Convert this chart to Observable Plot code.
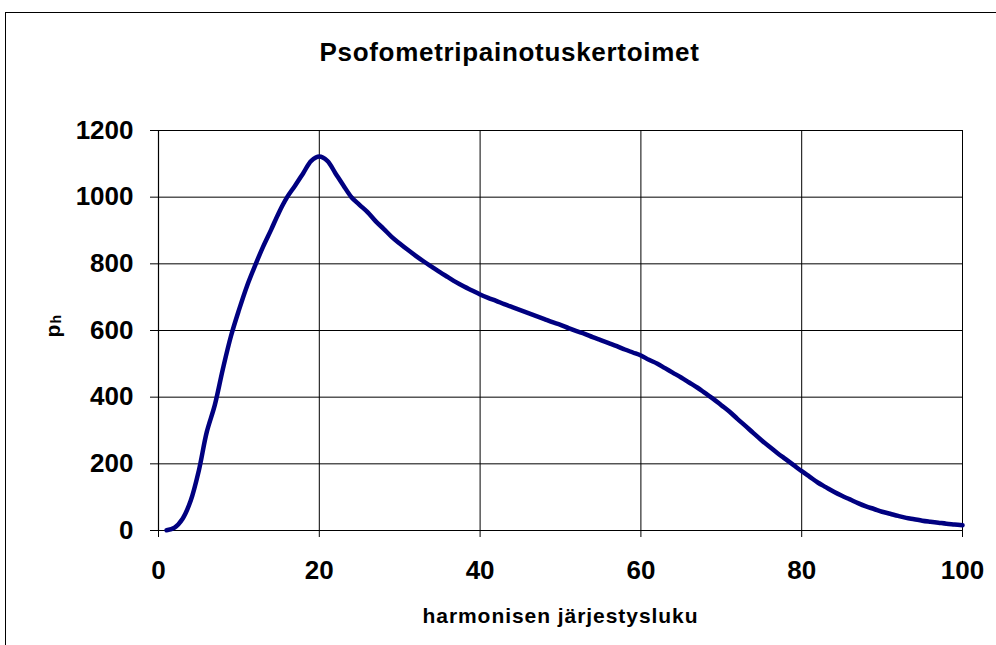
<!DOCTYPE html>
<html><head><meta charset="utf-8">
<script src="https://cdn.jsdelivr.net/npm/d3@7"></script>
<script src="https://cdn.jsdelivr.net/npm/@observablehq/plot@0.6"></script>
<style>
html,body{margin:0;padding:0;background:#fff;}
#chart{position:relative;width:996px;height:645px;overflow:hidden;background:#fff;}
#frame{position:absolute;left:5px;top:12px;width:1200px;height:800px;border:1.5px solid #000;box-sizing:border-box;}
#chart svg{position:absolute;left:0;top:0;}
</style></head><body>
<div id="chart"><div id="frame"></div></div>
<script>
const title = "Psofometripainotuskertoimet";
const xLabel = "harmonisen järjestysluku";
const yLabelMain = "p";
const yLabelSub = "h";
const harmonics = [1,2,3,4,5,6,7,8,9,10,11,12,13,14,15,16,17,18,19,20,
  21,22,23,24,25,26,27,28,29,30,31,32,33,34,35,36,37,38,39,40,
  41,42,43,44,45,46,47,48,49,50,51,52,53,54,55,56,57,58,59,60,
  61,62,63,64,65,66,67,68,69,70,71,72,73,74,75,76,77,78,79,80,
  81,82,83,84,85,86,87,88,89,90,91,92,93,94,95,96,97,98,99,100];
const weights = [0.71,8.91,35.5,89.1,178,295,376,484,582,661,
  733,794,851,902,955,1000,1035,1072,1109,1122,
  1109,1072,1035,1000,977,955,928,905,881,861,
  842,824,807,791,775,760,745,732,720,708,
  698,689,679,670,661,652,643,634,625,617,
  607,598,590,580,571,562,553,543,534,525,
  512,501,487,473,459,444,429,412,395,376,
  357,335,314,292,271,251,232,214,196,178,
  161,144,130,116,104,93.3,82.2,72.4,64.5,56.2,
  50.1,43.7,38.0,33.9,29.5,26.3,23.4,20.4,18.2,15.9];
const xTicks = [0,20,40,60,80,100];
const yTicks = [0,200,400,600,800,1000,1200];

const data = harmonics.map((h, i) => ({h, p: weights[i]}));
const font = "'Liberation Sans', Arial, Helvetica, sans-serif";
const fmt = d => String(d);

const plot = Plot.plot({
  width: 996, height: 645,
  marginLeft: 158, marginRight: 34, marginTop: 130, marginBottom: 115,
  style: {fontFamily: font, background: "transparent", color: "#000", overflow: "visible"},
  x: {domain: [0, 100]},
  y: {domain: [0, 1200]},
  marks: [
    Plot.gridY(yTicks, {stroke: "#000", strokeOpacity: 1, strokeWidth: 1}),
    Plot.gridX(xTicks, {stroke: "#000", strokeOpacity: 1, strokeWidth: 1}),
    Plot.ruleY([0], {stroke: "#000", strokeWidth: 1.2}),
    Plot.ruleX([0], {stroke: "#000", strokeWidth: 1.2}),
    Plot.axisY(yTicks, {tickSize: 8, tickPadding: 17, fontSize: 26, fontWeight: "bold", label: null, stroke: "#000", tickFormat: fmt}),
    Plot.axisX(xTicks, {tickSize: 7, tickPadding: 23, fontSize: 26, fontWeight: "bold", label: null, stroke: "#000", tickFormat: fmt}),
    Plot.lineY(data, {x: "h", y: "p", stroke: "#000080", strokeWidth: 4.5, strokeLinejoin: "round", strokeLinecap: "round", curve: "catmull-rom"}),
    Plot.text([title], {frameAnchor: "top", dx: -51, dy: -70, lineAnchor: "bottom", fontSize: 26, fontWeight: "bold", fill: "#000"}),
    Plot.text([xLabel], {frameAnchor: "bottom", dy: 92, lineAnchor: "bottom", fontSize: 21, fontWeight: "bold", fill: "#000"}),
    Plot.text([yLabelMain], {frameAnchor: "left", dx: -105, dy: 7, rotate: -90, lineAnchor: "middle", fontSize: 21, fontWeight: "bold", fill: "#000"}),
    Plot.text([yLabelSub], {frameAnchor: "left", dx: -102, dy: -7, rotate: -90, lineAnchor: "middle", fontSize: 14, fontWeight: "bold", fill: "#000"})
  ]
});
document.getElementById("chart").appendChild(plot);
d3.select(plot).selectAll("text").filter(function() { return this.textContent === title; }).style("letter-spacing", "0.7px");
d3.select(plot).selectAll("text").filter(function() { return this.textContent === xLabel; }).style("letter-spacing", "0.95px");
</script>
</body></html>
